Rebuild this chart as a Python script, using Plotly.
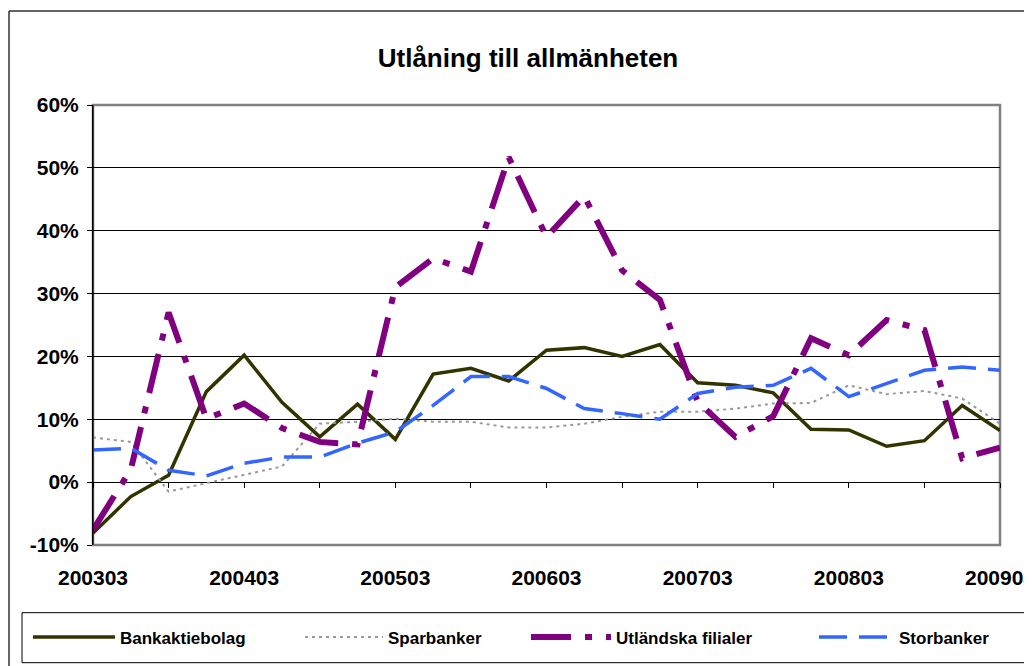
import plotly.graph_objects as go

quarters = ["200303", "200306", "200309", "200312",
            "200403", "200406", "200409", "200412",
            "200503", "200506", "200509", "200512",
            "200603", "200606", "200609", "200612",
            "200703", "200706", "200709", "200712",
            "200803", "200806", "200809", "200812",
            "200903"]

bankaktiebolag = [-8.1, -2.3, 1.1, 14.4, 20.2, 12.7, 7.2, 12.4, 6.8, 17.2, 18.1, 16.1,
                  21.0, 21.4, 20.0, 21.9, 15.8, 15.4, 14.2, 8.4, 8.3, 5.7, 6.6, 12.2, 8.2]
sparbanker = [7.1, 6.4, -1.5, -0.2, 1.1, 2.5, 9.3, 9.6, 10.1, 9.6, 9.6, 8.7,
              8.7, 9.3, 10.4, 11.2, 11.2, 11.7, 12.5, 12.6, 15.4, 14.0, 14.5, 13.3, 9.3]
utlandska_filialer = [-7.6, 2.0, 27.0, 10.1, 12.5, 8.6, 6.4, 6.0, 31.0, 35.6, 33.5, 51.7,
                      39.0, 45.5, 33.7, 29.0, 12.8, 7.2, 10.5, 22.9, 20.2, 25.8, 24.2, 3.8, 5.5]
storbanker = [5.1, 5.4, 1.9, 1.0, 3.0, 4.0, 4.0, 6.2, 8.0, 12.2, 16.8, 16.8,
              14.9, 11.7, 10.9, 10.0, 14.1, 15.1, 15.4, 18.1, 13.6, 15.7, 17.8, 18.3, 17.8]

y_tick_values = [-10, 0, 10, 20, 30, 40, 50, 60]
y_tick_labels = ["-10%", "0%", "10%", "20%", "30%", "40%", "50%", "60%"]

title_text = "Utlåning till allmänheten"
label_ticks = quarters[::4]
minor_ticks = quarters[::2]

FONT = "Liberation Sans, Arial, sans-serif"

# the html body has an 8px margin: positions below are page pixels, converted
OFF = 8
W, H = 1032, 666
L, R, T, B = 93 - OFF, 1000 - OFF, 105 - OFF, 545 - OFF
PW, PH = R - L, B - T


def px_x(x):
    return (x - OFF - L) / PW


def px_y(y):
    return (B - (y - OFF)) / PH


fig = go.Figure()
fig.add_trace(go.Scatter(x=quarters, y=bankaktiebolag, name="Bankaktiebolag", mode="lines",
                         line=dict(color="#333300", width=3.5), legend="legend"))
fig.add_trace(go.Scatter(x=quarters, y=sparbanker, name="Sparbanker", mode="lines",
                         line=dict(color="#999999", width=2, dash="3px,4px"), legend="legend2"))
fig.add_trace(go.Scatter(x=quarters, y=utlandska_filialer, name="Utländska filialer", mode="lines",
                         line=dict(color="#800080", width=6, dash="40px,14px,7px,14px"),
                         legend="legend3"))
fig.add_trace(go.Scatter(x=quarters, y=storbanker, name="Storbanker", mode="lines",
                         line=dict(color="#3366FF", width=3.5, dash="28px,12px"), legend="legend4"))
# helper trace so the tick-only axis on the zero line is drawn
fig.add_trace(go.Scatter(x=quarters, y=[None] * len(quarters), xaxis="x2", showlegend=False,
                         hoverinfo="skip", mode="lines"))

legend_font = dict(size=17, weight="bold", family=FONT, color="black")
legend_starts = [35, 307, 533, 821]
legend_itemwidths = [82, 78, 80, 75]
legend_common = dict(orientation="h", xanchor="left", yanchor="middle",
                     y=px_y(637.5), bgcolor="rgba(0,0,0,0)", borderwidth=0,
                     font=legend_font)

fig.update_layout(
    width=W, height=H, autosize=False,
    margin=dict(l=L, r=W - R, t=T, b=H - B, autoexpand=False),
    paper_bgcolor="white", plot_bgcolor="white",
    font=dict(family=FONT, color="black"),
    title=dict(text=title_text, x=(528 - OFF) / W, xref="container", xanchor="center",
               y=1 - (58 - OFF) / H, yref="container", yanchor="middle",
               font=dict(size=26, weight="bold", family=FONT, color="black")),
    xaxis=dict(type="category", categoryorder="array", categoryarray=quarters,
               range=[0, len(quarters) - 1], tickmode="array", tickvals=label_ticks,
               ticktext=label_ticks, showgrid=False, showline=False, zeroline=False,
               ticks="", ticklabelstandoff=18,
               tickfont=dict(size=21, weight="bold", family=FONT, color="black")),
    xaxis2=dict(type="category", categoryorder="array", categoryarray=quarters,
                range=[0, len(quarters) - 1], overlaying="x", anchor="free",
                position=1 / 7, side="bottom", tickmode="array", tickvals=minor_ticks,
                showticklabels=False, ticks="outside", ticklen=5, tickcolor="black",
                tickwidth=1, showgrid=False, showline=False, zeroline=False),
    yaxis=dict(range=[-10, 60], tickmode="array", tickvals=y_tick_values,
               ticktext=y_tick_labels,
               showgrid=True, gridcolor="black", gridwidth=1,
               zeroline=True, zerolinecolor="black", zerolinewidth=1,
               showline=True, linecolor="black", linewidth=1,
               ticks="outside", ticklen=5, tickcolor="black", ticklabelstandoff=4,
               tickfont=dict(size=21, weight="bold", family=FONT, color="black")),
    showlegend=True,
)

for i, name in enumerate(["legend", "legend2", "legend3", "legend4"]):
    fig.update_layout({name: dict(legend_common, x=px_x(legend_starts[i] - 7),
                                  itemwidth=legend_itemwidths[i])})

# plot-area frame (grey), legend box and outer chart border
fig.add_shape(type="rect", xref="paper", yref="paper", x0=0, x1=1, y0=0, y1=1,
              line=dict(color="#808080", width=2.5), layer="between")
fig.add_shape(type="line", xref="paper", yref="paper", x0=0, x1=0, y0=0, y1=1,
              line=dict(color="black", width=1))
fig.add_shape(type="rect", xref="paper", yref="paper",
              x0=px_x(22), x1=px_x(1028), y0=px_y(662.7), y1=px_y(612.7),
              line=dict(color="black", width=1))
fig.add_shape(type="line", xref="paper", yref="paper",
              x0=px_x(9), x1=px_x(1045), y0=px_y(11), y1=px_y(11),
              line=dict(color="#333333", width=1.5))
fig.add_shape(type="line", xref="paper", yref="paper",
              x0=px_x(9), x1=px_x(9), y0=px_y(11), y1=px_y(690),
              line=dict(color="#333333", width=1.5))

fig.write_html("out.html")
